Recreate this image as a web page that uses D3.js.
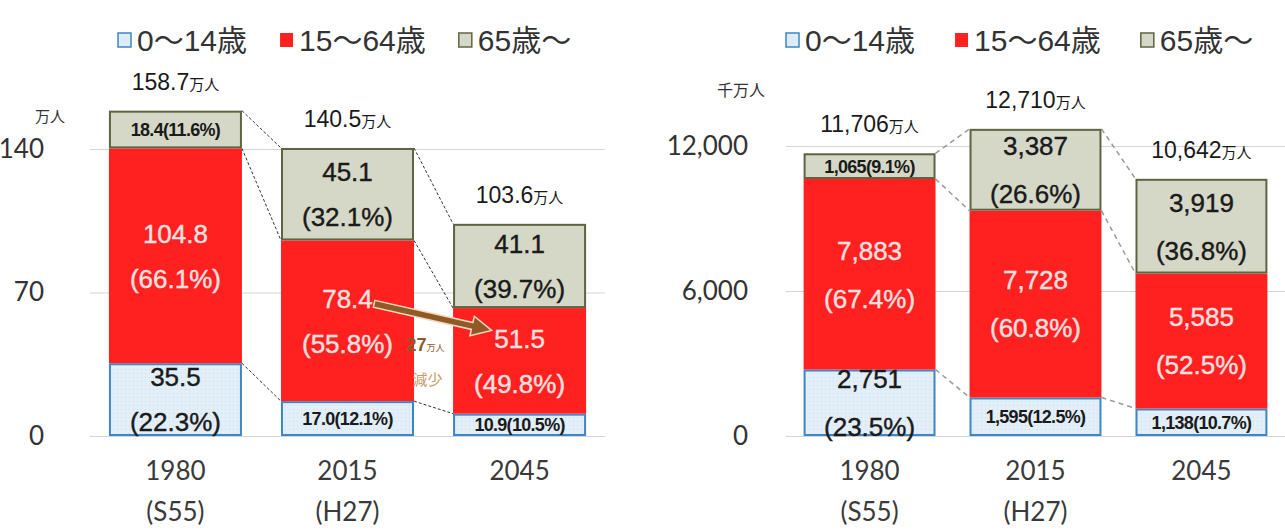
<!DOCTYPE html>
<html><head><meta charset="utf-8">
<script src="https://cdn.jsdelivr.net/npm/d3@7"></script>
<style>body{margin:0;background:#fff}</style>
</head><body><svg id="c" width="1285" height="532"></svg>
<script>
// ---- data ----
const categories = ["1980", "2015", "2045"];
const eraLabels = ["(S55)", "(H27)", ""];
const seriesNames = ["0〜14歳", "15〜64歳", "65歳〜"];

const leftYoung = [35.5, 17.0, 10.9];
const leftWorking = [104.8, 78.4, 51.5];
const leftOld = [18.4, 45.1, 41.1];
const leftYoungPct = [22.3, 12.1, 10.5];
const leftWorkingPct = [66.1, 55.8, 49.8];
const leftOldPct = [11.6, 32.1, 39.7];
const leftTotals = [158.7, 140.5, 103.6];
const leftTicks = [0, 70, 140];
const leftUnit = "万人";

const rightYoung = [2751, 1595, 1138];
const rightWorking = [7883, 7728, 5585];
const rightOld = [1065, 3387, 3919];
const rightYoungPct = [23.5, 12.5, 10.7];
const rightWorkingPct = [67.4, 60.8, 52.5];
const rightOldPct = [9.1, 26.6, 36.8];
const rightTotals = [11706, 12710, 10642];
const rightTicks = [0, 6000, 12000];
const rightUnit = "千万人";

const declineAmount = "27";
const declineUnit = "万人";
const declineWord = "減少";

// ---- styles ----
const NUMF = "'Liberation Sans','Noto Sans CJK JP',sans-serif";
const AXF = "Lato,'Liberation Sans',sans-serif";
const fills = ["url(#dotsBlue)", "#ff2020", "#d5d8c6"];
const strokes = ["#3f86c6", "none", "#5d6443"];
const labelColors = ["#1a1a1a", "#ffe0e0", "#1a1a1a"];

const svg = d3.select("#c");
const defs = svg.append("defs");
const pat = defs.append("pattern").attr("id", "dotsBlue").attr("patternUnits", "userSpaceOnUse")
  .attr("width", 4).attr("height", 4);
pat.append("rect").attr("width", 4).attr("height", 4).attr("fill", "#e2eff9");
pat.append("rect").attr("x", 1).attr("y", 1).attr("width", 1).attr("height", 1).attr("fill", "#c9def0");

function drawChart(cfg) {
  const g = svg.append("g");
  const y = d3.scaleLinear().domain([0, cfg.ticks[cfg.ticks.length - 1]]).range(cfg.yRange);
  const x = d3.scaleBand().domain(categories).range(cfg.xRange)
    .paddingInner(cfg.padIn).paddingOuter(cfg.padOut);
  const bw = x.bandwidth();

  // grid + ticks
  const axis = d3.axisLeft(y).tickValues(cfg.ticks).tickFormat(cfg.tickFmt)
    .tickSize(-(cfg.xRange[1] - cfg.xRange[0])).tickPadding(cfg.tickPad);
  const ag = g.append("g").attr("transform", `translate(${cfg.xRange[0]},0)`).call(axis);
  ag.select(".domain").remove();
  ag.selectAll("line").attr("stroke", "#d4d4d4").attr("stroke-width", 1);
  ag.selectAll("text").attr("font-family", AXF).attr("font-size", 26).attr("fill", "#333");

  // unit label
  g.append("text").attr("x", cfg.unitPos[0]).attr("y", cfg.unitPos[1]).attr("dy", "0.36em")
    .attr("font-family", NUMF).attr("font-size", cfg.unitSize).attr("fill", "#333")
    .attr("text-anchor", "middle").text(cfg.unit);

  const series = [cfg.young, cfg.working, cfg.old];
  const pcts = [cfg.youngPct, cfg.workingPct, cfg.oldPct];
  const stack = categories.map((c, i) => {
    let acc = 0;
    return series.map((s, k) => { const y0 = acc; acc += s[i]; return {c, i, k, y0, y1: acc, v: s[i], p: pcts[k][i]}; });
  });

  // connectors (dashed)
  for (let i = 0; i < categories.length - 1; i++) {
    for (let k = 0; k < 3; k++) {
      g.append("line")
        .attr("x1", x(categories[i]) + bw).attr("y1", y(stack[i][k].y1))
        .attr("x2", x(categories[i + 1])).attr("y2", y(stack[i + 1][k].y1))
        .attr("stroke", cfg.dashColor).attr("stroke-width", cfg.dashWidth)
        .attr("stroke-dasharray", cfg.dash);
    }
  }

  // bars
  stack.forEach(col => {
    col.forEach(d => {
      g.append("rect")
        .attr("x", x(d.c) + (d.k === 1 ? 0 : 1)).attr("width", bw - (d.k === 1 ? 0 : 2))
        .attr("y", y(d.y1) + (d.k === 1 ? 0 : 1))
        .attr("height", y(d.y0) - y(d.y1) - (d.k === 1 ? 0 : 2))
        .attr("fill", fills[d.k]).attr("stroke", strokes[d.k]).attr("stroke-width", 2);
    });
  });

  // segment labels
  stack.forEach(col => {
    col.forEach(d => {
      const cx = x(d.c) + bw / 2;
      const cy = (y(d.y0) + y(d.y1)) / 2;
      const h = y(d.y0) - y(d.y1);
      const vs = cfg.fmt(d.v), ps = d.p.toFixed(1) + "%";
      if (h < 50) {
        g.append("text").attr("x", cx).attr("y", cy).attr("dy", "0.36em")
          .attr("text-anchor", "middle").attr("font-family", NUMF).attr("font-weight", "bold")
          .attr("font-size", 18).attr("letter-spacing", -0.7).attr("fill", labelColors[d.k])
          .text(vs + "(" + ps + ")");
      } else {
        [[vs, -cfg.lineGap], ["(" + ps + ")", cfg.lineGap]].forEach(([t, off]) => {
          g.append("text").attr("x", cx).attr("y", cy + off).attr("dy", "0.36em")
            .attr("text-anchor", "middle").attr("font-family", NUMF)
            .attr("font-size", 26).attr("fill", labelColors[d.k])
            .attr("stroke", labelColors[d.k]).attr("stroke-width", 0.4).text(t);
        });
      }
    });
  });

  // totals
  cfg.totals.forEach((t, i) => {
    const top = stack[i][2].y1;
    const tx = g.append("text").attr("x", x(categories[i]) + bw / 2).attr("y", y(top) - 21)
      .attr("text-anchor", "middle").attr("font-family", NUMF).attr("fill", "#1a1a1a");
    tx.append("tspan").attr("font-size", 23).text(cfg.totFmt(t));
    tx.append("tspan").attr("font-size", 15).text("万人");
  });

  // category labels
  categories.forEach((c, i) => {
    g.append("text").attr("x", x(c) + bw / 2).attr("y", 480).attr("text-anchor", "middle")
      .attr("font-family", AXF).attr("font-size", 26).attr("fill", "#3a3a3a").text(c);
    g.append("text").attr("x", x(c) + bw / 2).attr("y", 521).attr("text-anchor", "middle")
      .attr("font-family", AXF).attr("font-size", 26).attr("fill", "#3a3a3a").text(eraLabels[i]);
  });

  // legend
  let lx = cfg.legendX;
  const ly = 40;
  seriesNames.forEach((n, k) => {
    g.append("rect").attr("x", lx).attr("y", ly - 7).attr("width", 13).attr("height", 14)
      .attr("fill", k === 0 ? "#dcecf8" : fills[k]).attr("stroke", k === 1 ? "none" : strokes[k]).attr("stroke-width", 1.5);
    const t = g.append("text").attr("x", lx + 19).attr("y", ly).attr("dy", "0.36em")
      .attr("font-family", NUMF).attr("font-size", 30).attr("fill", "#333").text(n);
    lx += 19 + t.node().getComputedTextLength() + cfg.legendGap;
  });

  return {x, y, bw, g};
}

const L = drawChart({
  young: leftYoung, working: leftWorking, old: leftOld,
  youngPct: leftYoungPct, workingPct: leftWorkingPct, oldPct: leftOldPct,
  totals: leftTotals, ticks: leftTicks, unit: leftUnit, unitPos: [50, 117], unitSize: 15,
  yRange: [436, 149], xRange: [90, 605], padIn: 0.227, padOut: 0.11,
  tickPad: 46, tickFmt: d3.format("d"),
  fmt: v => v.toFixed(1), totFmt: v => v.toFixed(1), lineGap: 22.5,
  dashColor: "#333", dashWidth: 1, dash: "3,2", legendX: 118, legendGap: 33
});

const R = drawChart({
  young: rightYoung, working: rightWorking, old: rightOld,
  youngPct: rightYoungPct, workingPct: rightWorkingPct, oldPct: rightOldPct,
  totals: rightTotals, ticks: rightTicks, unit: rightUnit, unitPos: [741, 90], unitSize: 16,
  yRange: [436, 146], xRange: [786, 1285], padIn: 0.205, padOut: 0.106,
  tickPad: 38, tickFmt: d3.format(","),
  fmt: d3.format(","), totFmt: d3.format(","), lineGap: 24,
  dashColor: "#9a9a9a", dashWidth: 1.5, dash: "5,4", legendX: 786, legendGap: 40
});

// decline arrow (left chart)
{
  const {x, y, bw, g} = L;
  const x0 = x("2015") + bw * 0.7, y0 = y(64.5);
  const x1 = x("2045") + bw * 0.29, y1 = y(51.5);
  const ang = Math.atan2(y1 - y0, x1 - x0);
  const len = Math.hypot(x1 - x0, y1 - y0);
  const sw = 3.5, hw = 10, hl = 20;
  const pts = [[0, -sw], [len - hl, -sw], [len - hl, -hw], [len, 0], [len - hl, hw], [len - hl, sw], [0, sw]];
  g.append("polygon")
    .attr("points", pts.map(p => p.join(",")).join(" "))
    .attr("transform", `translate(${x0},${y0}) rotate(${ang * 180 / Math.PI})`)
    .attr("fill", "#8f5a24").attr("stroke", "#f3d9c0").attr("stroke-width", 1.5);
  const gapC = (x("2015") + bw + x("2045")) / 2;
  const t1 = g.append("text").attr("x", gapC - 8).attr("y", y(44.5)).attr("dy", "0.36em")
    .attr("text-anchor", "middle").attr("font-family", NUMF).attr("fill", "#8a5a2a");
  t1.append("tspan").attr("font-size", 18).attr("font-weight", "bold").text(declineAmount);
  t1.append("tspan").attr("font-size", 9).text(declineUnit);
  g.append("text").attr("x", gapC - 6).attr("y", y(27.5)).attr("dy", "0.36em")
    .attr("text-anchor", "middle").attr("font-family", NUMF).attr("font-size", 15)
    .attr("fill", "#c89a6a").text(declineWord);
}
</script></body></html>
